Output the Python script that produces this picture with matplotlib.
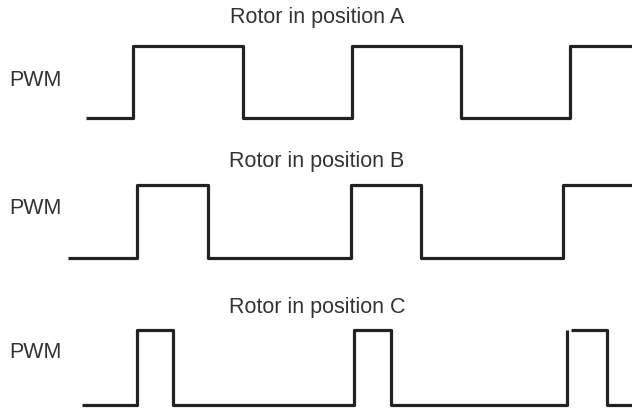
import numpy as np
import matplotlib.pyplot as plt

# pulse timing for each rotor position (x positions of edges, in px of the drawing)
titles = ["Rotor in position A", "Rotor in position B", "Rotor in position C"]
starts = [86, 68, 82]
edges_a = [133, 243, 352, 461, 570]
edges_b = [137, 208, 351, 421, 563]
edges_c = [137, 173, 354, 391, 567, 607]
ends = [632, 632, 632]
edges = [edges_a, edges_b, edges_c]
# the last pulse of C has a small break between its rising edge and its top
gap_c = (567, 571)

low_levels = [118, 258, 405]
high_levels = [46, 185, 330]
title_y = [17, 162, 307]
label_y = [80, 208, 353]

fig = plt.figure(figsize=(6.32, 4.13), dpi=100)
ax = fig.add_axes([0, 0, 1, 1])
ax.set_xlim(0, 632)
ax.set_ylim(413, 0)
ax.axis("off")

for i in range(3):
    xs = [starts[i]]
    ys = [low_levels[i]]
    level = low_levels[i]
    for e in edges[i]:
        xs += [e, e]
        nxt = high_levels[i] if level == low_levels[i] else low_levels[i]
        ys += [level, nxt]
        level = nxt
        if i == 2 and e == gap_c[0]:
            xs += [np.nan, gap_c[1]]
            ys += [np.nan, nxt]
    xs.append(ends[i])
    ys.append(level)
    ax.plot(xs, ys, color="#222222", lw=2.3, solid_joinstyle="round",
            solid_capstyle="butt")
    ax.text(317, title_y[i], titles[i], ha="center", va="center",
            fontsize=15.5, color="#333333", family="Liberation Sans")
    ax.text(9, label_y[i], "PWM", ha="left", va="center",
            fontsize=15.5, color="#333333", family="Liberation Sans")

fig.savefig("out.png", dpi=100)
